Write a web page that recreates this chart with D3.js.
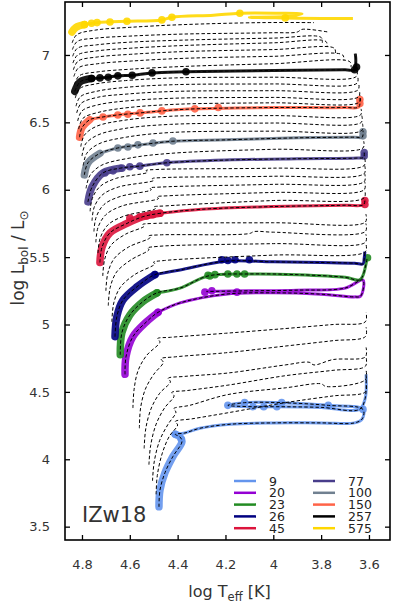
<!DOCTYPE html>
<html>
<head>
<meta charset="utf-8">
<script src="https://cdn.jsdelivr.net/npm/d3@7"></script>
<style>
  body { margin: 0; background: #fff; }
  svg { display: block; }
  text { font-family: "DejaVu Sans", sans-serif; }
</style>
</head>
<body>
<svg id="chart"></svg>
<script>
// axis ticks
const xTicks = [4.8, 4.6, 4.4, 4.2, 4, 3.8, 3.6];
const yTicks = [3.5, 4, 4.5, 5, 5.5, 6, 6.5, 7];

// initial masses shown in colour, and their colours
const masses = [9, 20, 23, 26, 45, 77, 100, 150, 257, 575];
const massColors = ["#6495ed", "#9400d3", "#228b22", "#000080", "#dc143c",
                    "#483d8b", "#708090", "#ff6347", "#000000", "#ffd700"];

// coloured tracks [log Teff, log L]
const track9 = [[4.478,3.647],[4.474,3.77],[4.453,3.90],[4.42,4.02],[4.382,4.13],[4.39,4.165],[4.41,4.185],
  [4.37,4.195],[4.307,4.23],[4.18,4.26],[4.0,4.27],[3.8,4.27],[3.66,4.27],[3.628,4.30],[3.625,4.37],
  [3.77,4.40],[3.965,4.42],[4.12,4.42],[4.19,4.40],[4.085,4.39],[3.985,4.39],[3.8,4.385],[3.64,4.37],
  [3.616,4.45],[3.612,4.63]];
const track20 = [[4.62,4.63],[4.616,4.76],[4.587,4.91],[4.53,5.02],[4.482,5.09],
  [4.39,5.16],[4.2,5.225],[4.0,5.235],[3.8,5.225],[3.66,5.205],[3.635,5.21],[3.625,5.33],
  [3.7,5.27],[3.9,5.255],[4.1,5.25],[4.28,5.245]];
const track23 = [[4.64,4.775],[4.633,4.94],[4.60,5.07],[4.545,5.17],[4.486,5.235],
  [4.39,5.27],[4.273,5.36],[4.1,5.375],[3.9,5.37],[3.7,5.35],[3.64,5.33],[3.626,5.36],[3.608,5.49]];
const track26 = [[4.662,4.91],[4.654,5.06],[4.629,5.18],[4.57,5.28],[4.495,5.37],
  [4.39,5.405],[4.2,5.47],[4.0,5.465],[3.8,5.46],[3.66,5.455],[3.625,5.45],[3.62,5.49],[3.617,5.54]];
const track45 = [[4.725,5.46],[4.716,5.575],[4.683,5.68],[4.612,5.75],[4.545,5.80],[4.474,5.825],
  [4.3,5.855],[4.0,5.875],[3.7,5.885],[3.622,5.89],[3.617,5.935]];
const track77 = [[4.775,5.91],[4.758,6.02],[4.712,6.125],[4.64,6.16],
  [4.557,6.176],[4.445,6.20],[4.2,6.22],[3.9,6.23],[3.65,6.235],[3.622,6.24],[3.62,6.28]];
const track100 = [[4.79,6.11],[4.775,6.20],[4.725,6.27],
  [4.65,6.31],[4.566,6.33],[4.42,6.36],[4.2,6.37],[3.9,6.385],[3.66,6.39],[3.628,6.39],[3.625,6.44]];
const track150 = [[4.81,6.39],[4.80,6.46],[4.767,6.52],
  [4.712,6.54],[4.65,6.555],[4.557,6.57],[4.466,6.585],[4.33,6.60],[4.0,6.61],[3.7,6.61],[3.642,6.615],[3.638,6.68]];
const track257 = [[4.83,6.73],[4.808,6.80],[4.76,6.825],
  [4.725,6.83],[4.69,6.835],[4.65,6.845],[4.59,6.85],[4.507,6.867],[4.365,6.875],[4.0,6.885],[3.7,6.89],
  [3.66,6.89],[3.655,6.95],[3.657,7.01]];
const track575 = [[4.842,7.17],[4.825,7.205],[4.79,7.225],
  [4.737,7.24],[4.683,7.245],[4.612,7.25],[4.466,7.26],[4.424,7.28],[4.25,7.295],[4.14,7.31],[3.98,7.31],
  [3.88,7.305],[3.95,7.285],[4.1,7.28],[3.95,7.274],[3.8,7.27],[3.667,7.27]];
const coloredTracks = [track9, track20, track23, track26, track45, track77, track100, track150, track257, track575];
// number of leading points that belong to the thick main-sequence part
const msLength = [7, 5, 5, 5, 6, 4, 3, 3, 3, 3];

// time-step markers on the coloured tracks
const dots9 = [[4.41,4.185],[4.385,4.15],[4.19,4.40],[4.12,4.42],[4.085,4.39],[4.04,4.39],[3.985,4.39],[3.965,4.42],[3.77,4.40],[3.625,4.37]];
const dots20 = [[4.482,5.09],[4.286,5.24],[4.257,5.25],[4.152,5.24]];
const dots23 = [[4.486,5.235],[4.273,5.365],[4.265,5.36],[4.244,5.37],[4.19,5.375],[4.152,5.375],[4.12,5.375],[3.606,5.495]];
const dots26 = [[4.495,5.37],[4.215,5.48],[4.19,5.475],[4.16,5.48],[4.10,5.48]];
const dots45 = [[4.6,5.79],[4.558,5.80],[4.53,5.805],[4.503,5.815],[4.474,5.825],[3.617,5.89],[3.617,5.92]];
const dots77 = [[4.704,6.125],[4.67,6.14],[4.633,6.16],[4.6,6.17],[4.558,6.175],[4.445,6.20],[3.62,6.25],[3.62,6.275]];
const dots100 = [[4.65,6.31],[4.608,6.317],[4.566,6.333],[4.503,6.347],[4.42,6.362],[3.625,6.40],[3.625,6.43]];
const dots150 = [[4.712,6.54],[4.65,6.555],[4.608,6.56],[4.557,6.57],[4.466,6.585],[4.328,6.60],[4.23,6.61],[3.638,6.64],[3.638,6.67]];
const dots257 = [[4.76,6.825],[4.725,6.83],[4.69,6.835],[4.65,6.845],[4.59,6.85],[4.507,6.867],[4.365,6.875],[3.66,6.89],[3.652,6.91]];
const dots575 = [[4.79,7.225],[4.76,7.235],[4.737,7.24],[4.683,7.245],[4.612,7.25],[4.466,7.26],[4.424,7.28],[4.14,7.31],[3.95,7.275]];
const coloredDots = [dots9, dots20, dots23, dots26, dots45, dots77, dots100, dots150, dots257, dots575];

// the grid of dashed model tracks
const dashedTracks = [
  [[4.841,7.09],[4.822,7.15],[4.742,7.185],[4.6,7.205],[4.38,7.225],[4.05,7.24],[3.83,7.24]],
  [[4.84,7.04],[4.82,7.1],[4.74,7.125],[4.6,7.14],[4.38,7.155],[4.0,7.165],[3.9,7.17],[3.88,7.19],[3.77,7.17]],
  [[4.839,6.99],[4.819,7.05],[4.739,7.075],[4.6,7.095],[4.38,7.11],[4.0,7.125],[3.8,7.13],[3.795,7.09]],
  [[4.838,6.94],[4.818,7.0],[4.738,7.03],[4.598,7.05],[4.378,7.07],[4.0,7.09],[3.78,7.1],[3.775,7.06]],
  [[4.836,6.89],[4.816,6.955],[4.736,6.985],[4.596,7.005],[4.376,7.025],[4.0,7.04],[3.745,7.05],[3.74,7.01]],
  [[4.834,6.84],[4.814,6.905],[4.734,6.935],[4.594,6.955],[4.374,6.975],[4.0,6.99],[3.71,7.0],[3.705,6.96]],
  [[4.832,6.78],[4.812,6.845],[4.732,6.875],[4.592,6.895],[4.372,6.915],[4.0,6.935],[3.68,6.95],[3.675,6.91]],
  [[4.828,6.68],[4.81,6.75],[4.743,6.785],[4.618,6.81],[4.408,6.83],[4.0,6.835],[3.653,6.84],[3.65,6.89]],
  [[4.825,6.62],[4.807,6.69],[4.74,6.73],[4.615,6.76],[4.405,6.78],[4.0,6.785],[3.65,6.79],[3.647,6.84]],
  [[4.822,6.57],[4.804,6.64],[4.737,6.685],[4.612,6.71],[4.402,6.73],[4.0,6.735],[3.646,6.74],[3.643,6.79]],
  [[4.818,6.51],[4.8,6.585],[4.733,6.63],[4.608,6.66],[4.398,6.68],[4.0,6.685],[3.643,6.69],[3.64,6.74]],
  [[4.814,6.45],[4.796,6.53],[4.729,6.575],[4.604,6.61],[4.394,6.635],[4.0,6.645],[3.64,6.65],[3.637,6.70]],
  [[4.805,6.32],[4.79,6.405],[4.74,6.47],[4.625,6.515],[4.435,6.545],[4.0,6.55],[3.635,6.555],[3.633,6.6]],
  [[4.8,6.25],[4.785,6.34],[4.735,6.405],[4.62,6.455],[4.43,6.485],[4.0,6.495],[3.632,6.5],[3.63,6.55]],
  [[4.795,6.18],[4.78,6.27],[4.73,6.34],[4.615,6.39],[4.425,6.425],[4.0,6.435],[3.63,6.44],[3.627,6.49]],
  [[4.783,6.01],[4.767,6.105],[4.72,6.18],[4.6,6.235],[4.43,6.27],[4.0,6.3],[3.625,6.31],[3.622,6.36]],
  [[4.766,5.84],[4.757,5.935],[4.724,6.025],[4.656,6.085],[4.526,6.13],[4.532,6.142],[4.49,6.15],[4.0,6.16],[3.62,6.18],[3.618,6.235]],
  [[4.758,5.77],[4.749,5.87],[4.716,5.96],[4.648,6.02],[4.5,6.07],[4.506,6.082],[4.46,6.09],[4.0,6.1],[3.62,6.12],[3.618,6.18]],
  [[4.75,5.69],[4.741,5.795],[4.708,5.89],[4.64,5.95],[4.51,6.0],[4.516,6.012],[4.47,6.02],[4.0,6.04],[3.62,6.06],[3.618,6.12]],
  [[4.742,5.61],[4.733,5.72],[4.7,5.815],[4.632,5.88],[4.48,5.935],[4.486,5.947],[4.44,5.955],[4.0,5.98],[3.62,6.0],[3.618,6.06]],
  [[4.733,5.53],[4.724,5.64],[4.691,5.74],[4.623,5.805],[4.493,5.86],[4.499,5.872],[4.45,5.88],[4.0,5.92],[3.62,5.94],[3.618,6.0]],
  [[4.713,5.36],[4.705,5.485],[4.678,5.59],[4.618,5.67],[4.54,5.73],[4.546,5.742],[4.5,5.75],[4.0,5.755],[3.615,5.76],[3.613,5.82]],
  [[4.70,5.25],[4.692,5.38],[4.665,5.49],[4.605,5.575],[4.515,5.645],[4.521,5.657],[4.475,5.665],[4.1,5.675],[4.08,5.69],[4.0,5.685],[3.615,5.69],[3.613,5.75]],
  [[4.69,5.14],[4.682,5.275],[4.655,5.39],[4.595,5.48],[4.52,5.555],[4.526,5.567],[4.48,5.58],[4.0,5.6],[3.615,5.61],[3.613,5.67]],
  [[4.675,5.02],[4.667,5.16],[4.64,5.275],[4.58,5.37],[4.495,5.45],[4.501,5.462],[4.455,5.475],[4.0,5.515],[3.615,5.54],[3.613,5.6]],
  [[4.587,4.38],[4.582,4.52],[4.565,4.66],[4.53,4.77],[4.474,4.87],[4.484,4.895],[4.43,4.905],[4.2,4.935],[3.95,4.97],[3.75,5.0],[3.615,5.02],[3.612,5.09]],
  [[4.56,4.23],[4.555,4.38],[4.535,4.52],[4.5,4.63],[4.46,4.72],[4.47,4.745],[4.41,4.76],[4.2,4.79],[3.95,4.84],[3.75,4.88],[3.615,4.91],[3.612,4.98]],
  [[4.54,4.08],[4.533,4.23],[4.51,4.38],[4.475,4.49],[4.43,4.575],[4.44,4.60],[4.37,4.615],[4.19,4.64],[3.95,4.7],[3.85,4.72],[3.83,4.70],[3.75,4.74],[3.615,4.76],[3.612,4.83]],
  [[4.52,3.96],[4.513,4.1],[4.49,4.26],[4.455,4.38],[4.415,4.47],[4.425,4.495],[4.36,4.51],[4.19,4.55],[3.95,4.62],[3.75,4.66],[3.615,4.69],[3.612,4.76]],
  [[4.505,3.84],[4.498,3.98],[4.475,4.14],[4.44,4.26],[4.407,4.35],[4.417,4.375],[4.35,4.40],[4.19,4.48],[3.95,4.53],[3.8,4.56],[3.78,4.54],[3.615,4.59],[3.612,4.66]],
  [[4.49,3.74],[4.485,3.88],[4.465,4.04],[4.435,4.17],[4.40,4.255],[4.41,4.28],[4.34,4.30],[4.19,4.345],[3.95,4.42],[3.75,4.47],[3.615,4.5],[3.612,4.57]]
];

const width = 395, height = 606;
const margin = {top: 2, right: 5, bottom: 66, left: 65};

const svg = d3.select("#chart").attr("width", width).attr("height", height);

const x = d3.scaleLinear().domain([4.871, 3.512]).range([margin.left, width - margin.right]);
const y = d3.scaleLinear().domain([3.401, 7.393]).range([height - margin.bottom, margin.top]);

svg.append("clipPath").attr("id", "plot-clip")
  .append("rect")
  .attr("x", margin.left).attr("y", margin.top)
  .attr("width", width - margin.left - margin.right)
  .attr("height", height - margin.top - margin.bottom);

const plot = svg.append("g").attr("clip-path", "url(#plot-clip)");

const line = d3.line()
  .x(d => x(d[0]))
  .y(d => y(d[1]))
  .curve(d3.curveCatmullRom.alpha(0.5));

// coloured tracks: thin post-MS part, then thick MS part, then the markers
coloredTracks.forEach((pts, i) => {
  const k = msLength[i];
  plot.append("path")
    .attr("d", line(pts.slice(k - 1)))
    .attr("fill", "none")
    .attr("stroke", massColors[i])
    .attr("stroke-width", 3)
    .attr("stroke-linejoin", "round")
    .attr("opacity", 0.9);
  plot.append("path")
    .attr("d", line(pts.slice(0, k)))
    .attr("fill", "none")
    .attr("stroke", massColors[i])
    .attr("stroke-width", 7.5)
    .attr("stroke-linecap", "round")
    .attr("opacity", 0.9);
  plot.append("g")
    .selectAll("circle")
    .data(coloredDots[i])
    .enter()
    .append("circle")
    .attr("cx", d => x(d[0]))
    .attr("cy", d => y(d[1]))
    .attr("r", 3.8)
    .attr("fill", massColors[i])
    .attr("opacity", 0.9);
});

// dashed model grid, also drawn along the coloured tracks
const allDashed = dashedTracks.concat(coloredTracks.slice(0, 9));
plot.append("g")
  .selectAll("path")
  .data(allDashed)
  .enter()
  .append("path")
  .attr("d", line)
  .attr("fill", "none")
  .attr("stroke", "#000")
  .attr("stroke-width", 1)
  .attr("stroke-dasharray", "3.4,2.2");

// axes, ticks pointing inwards on every side
const bottom = height - margin.bottom;
const right = width - margin.right;

const xAxis = svg.append("g")
  .attr("transform", "translate(0," + bottom + ")")
  .call(d3.axisBottom(x).tickValues(xTicks).tickSize(-5).tickPadding(20).tickFormat(d => String(d)));
const yAxis = svg.append("g")
  .attr("transform", "translate(" + margin.left + ",0)")
  .call(d3.axisLeft(y).tickValues(yTicks).tickSize(-5).tickPadding(15).tickFormat(d => String(d)));
const xTop = svg.append("g")
  .attr("transform", "translate(0," + margin.top + ")")
  .call(d3.axisTop(x).tickValues(xTicks).tickSize(-5).tickFormat(""));
const yRight = svg.append("g")
  .attr("transform", "translate(" + right + ",0)")
  .call(d3.axisRight(y).tickValues(yTicks).tickSize(-5).tickFormat(""));

[xAxis, yAxis, xTop, yRight].forEach(a => {
  a.select(".domain").remove();
  a.selectAll(".tick line").attr("stroke", "#000").attr("stroke-width", 1.3);
  a.selectAll(".tick text")
    .attr("fill", "#333")
    .style("font-size", "13px")
    .style("font-family", "DejaVu Sans, sans-serif");
});

svg.append("rect")
  .attr("x", margin.left).attr("y", margin.top)
  .attr("width", right - margin.left)
  .attr("height", bottom - margin.top)
  .attr("fill", "none")
  .attr("stroke", "#000")
  .attr("stroke-width", 1.6);

// axis titles
const xTitle = svg.append("text")
  .attr("x", (margin.left + right) / 2 + 2)
  .attr("y", 597)
  .attr("text-anchor", "middle")
  .attr("fill", "#333")
  .style("font-size", "16px");
xTitle.append("tspan").text("log T");
xTitle.append("tspan").attr("dy", 4).style("font-size", "11.5px").text("eff");
xTitle.append("tspan").attr("dy", -4).text(" [K]");

const yTitle = svg.append("text")
  .attr("transform", "translate(24,258) rotate(-90)")
  .attr("text-anchor", "middle")
  .attr("fill", "#333")
  .style("font-size", "17px");
yTitle.append("tspan").text("log L");
yTitle.append("tspan").attr("dy", 4).style("font-size", "12px").text("bol");
yTitle.append("tspan").attr("dy", -4).text(" / L");
yTitle.append("tspan").attr("dy", 4).style("font-size", "12px").text("\u2299");

svg.append("text")
  .attr("x", 82).attr("y", 522)
  .attr("fill", "#333")
  .style("font-size", "21px")
  .text("IZw18");

// legend, two columns of five
const legend = svg.append("g");
masses.forEach((m, i) => {
  const col = Math.floor(i / 5), row = i % 5;
  const lx = 234 + col * 79, ly = 481 + row * 11.8;
  legend.append("line")
    .attr("x1", lx).attr("x2", lx + 22)
    .attr("y1", ly).attr("y2", ly)
    .attr("stroke", massColors[i])
    .attr("stroke-width", 2.5);
  legend.append("text")
    .attr("x", lx + 35).attr("y", ly)
    .attr("dy", "0.36em")
    .attr("fill", "#222")
    .style("font-size", "12.5px")
    .text(m);
});
</script>
</body>
</html>
